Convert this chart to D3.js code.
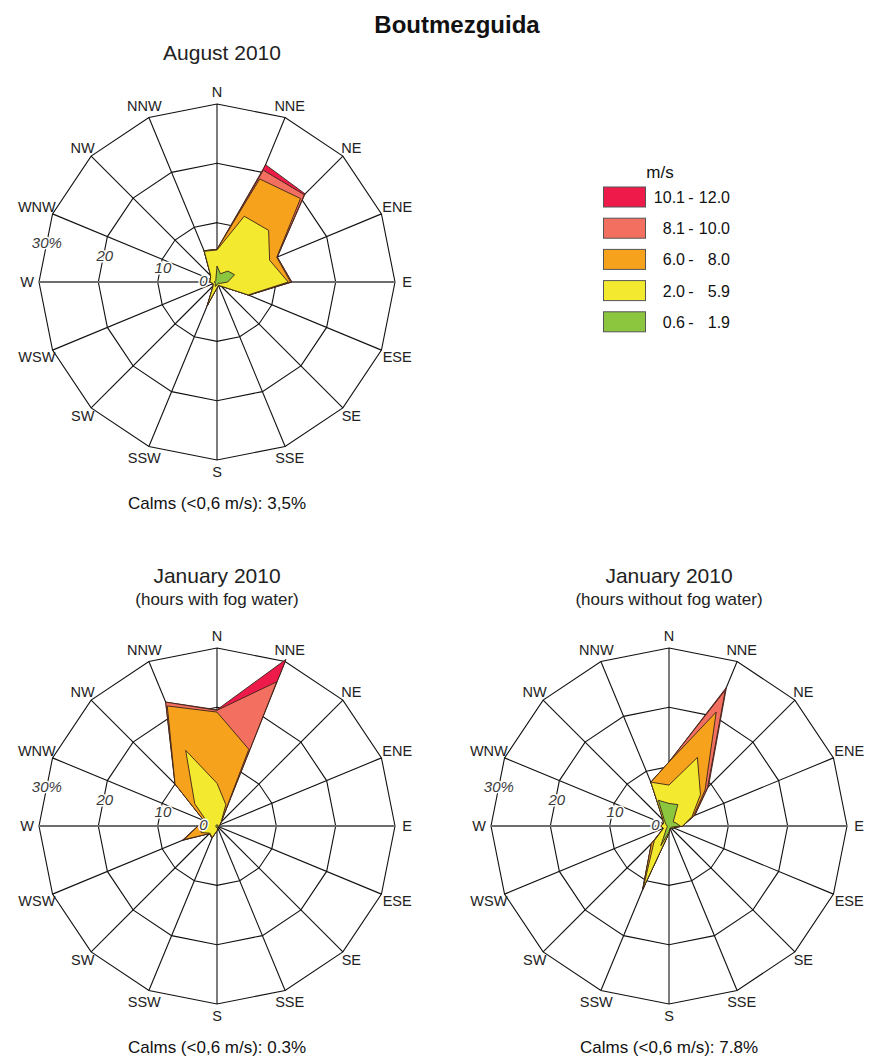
<!DOCTYPE html>
<html><head><meta charset="utf-8">
<script src="https://cdn.jsdelivr.net/npm/d3@7"></script>
<style>
body{margin:0;background:#fff;}
svg{font-family:"Liberation Sans",Arial,sans-serif;}
</style></head>
<body><svg id="chart" width="871" height="1056"></svg>
<script>
// 16 compass directions, clockwise from N
const directions = ["N","NNE","NE","ENE","E","ESE","SE","SSE","S","SSW","SW","WSW","W","WNW","NW","NNW"];
const speedClasses = ["0.6 - 1.9","2.0 - 5.9","6.0 - 8.0","8.1 - 10.0","10.1 - 12.0"];
const legendLow = ["10.1","8.1","6.0","2.0","0.6"];
const legendHigh = ["12.0","10.0","8.0","5.9","1.9"];
const classColors = ["#8CC63F","#F3EA2F","#F7A21C","#F37060","#ED1A4A"];
const ringTicks = [0,10,20,30];

// Cumulative frequency (%) per direction, up to each speed class upper bound
// August 2010
const aug_1_9  = [2.7,1.5,2.6,3.2,1.8,0.6,0.3,0.3,0.5,0.8,0.4,0.3,0.5,0.3,0.3,0.5];
const aug_5_9  = [5.4,12.0,12.3,9.6,12.0,5.7,1.0,0.6,1.0,4.2,0.9,0.7,1.2,1.2,1.5,5.6];
const aug_8_0  = [5.5,18.8,19.9,10.9,12.4,5.8,1.0,0.6,1.0,4.3,0.9,0.7,1.2,1.2,1.5,5.7];
const aug_10_0 = [5.5,20.4,20.8,11.0,12.6,5.8,1.0,0.6,1.0,4.3,0.9,0.7,1.2,1.2,1.5,5.7];
const aug_12_0 = [5.5,21.4,21.0,11.0,12.6,5.8,1.0,0.6,1.0,4.3,0.9,0.7,1.2,1.2,1.5,5.7];
// January 2010, hours with fog water
const janFog_1_9  = [0.2,0.2,0.2,0.1,0.1,0.1,0.1,0.1,0.2,0.3,0.2,0.2,0.2,0.2,0.2,0.2];
const janFog_5_9  = [7.2,3.9,1.0,0.5,0.3,0.2,0.2,0.3,0.8,2.1,1.7,2.9,2.6,1.8,5.3,13.8];
const janFog_8_0  = [19.2,14.0,1.0,0.5,0.3,0.2,0.2,0.3,0.8,2.2,1.8,6.0,3.2,2.4,10.0,21.9];
const janFog_10_0 = [19.5,26.3,1.0,0.5,0.3,0.2,0.2,0.3,0.8,2.2,1.8,6.3,3.2,2.4,10.0,22.6];
const janFog_12_0 = [19.6,30.4,1.0,0.5,0.3,0.2,0.2,0.3,0.8,2.2,1.8,6.3,3.2,2.4,10.0,22.6];
// January 2010, hours without fog water
const janNoFog_1_9  = [3.8,3.9,1.0,1.3,1.9,0.5,0.4,0.4,1.0,3.6,0.6,0.3,0.3,0.5,1.0,4.7];
const janNoFog_5_9  = [6.9,12.5,7.5,4.2,2.3,0.8,0.5,0.5,1.2,11.4,3.5,1.0,1.4,1.0,1.4,8.0];
const janNoFog_8_0  = [10.8,20.8,8.6,4.5,2.3,0.8,0.5,0.5,1.2,11.6,4.2,1.0,1.4,1.0,1.4,8.0];
const janNoFog_10_0 = [10.8,24.8,9.2,4.7,2.3,0.8,0.5,0.5,1.2,11.6,4.2,1.0,1.4,1.0,1.4,8.0];
const janNoFog_12_0 = [10.8,25.3,9.4,4.7,2.3,0.8,0.5,0.5,1.2,11.6,4.2,1.0,1.4,1.0,1.4,8.0];

const roses = [
  {title:"August 2010", sub:null, calms:"Calms (<0,6 m/s): 3,5%", cx:217, cy:282,
   layers:[aug_1_9,aug_5_9,aug_8_0,aug_10_0,aug_12_0]},
  {title:"January 2010", sub:"(hours with fog water)", calms:"Calms (<0,6 m/s): 0.3%", cx:217, cy:826,
   layers:[janFog_1_9,janFog_5_9,janFog_8_0,janFog_10_0,janFog_12_0]},
  {title:"January 2010", sub:"(hours without fog water)", calms:"Calms (<0,6 m/s): 7.8%", cx:669, cy:826,
   layers:[janNoFog_1_9,janNoFog_5_9,janNoFog_8_0,janNoFog_10_0,janNoFog_12_0]}
];

const svg = d3.select("#chart");
const R = 178;
const rScale = d3.scaleLinear().domain([0,30]).range([0,R]);
const angle = d3.scaleLinear().domain([0,16]).range([0,2*Math.PI]);

svg.append("text").attr("x",457).attr("y",33).attr("text-anchor","middle")
  .attr("font-size",24).attr("font-weight","bold").attr("fill","#111").text("Boutmezguida");

roses.forEach(rose=>{
  const g = svg.append("g").attr("transform",`translate(${rose.cx},${rose.cy})`);
  // rings (16-gons)
  const ringLine = d3.lineRadial().angle((d,i)=>angle(i)).radius(d=>rScale(d)).curve(d3.curveLinearClosed);
  ringTicks.slice(1).forEach(t=>{
    g.append("path").attr("d",ringLine(directions.map(()=>t)))
      .attr("fill","none").attr("stroke","#111").attr("stroke-width",1.1);
  });
  // spokes
  directions.forEach((d,i)=>{
    const a = angle(i);
    const horiz = (i===4||i===12);
    g.append("line").attr("x1",0).attr("y1",0)
      .attr("x2",rScale(30)*Math.sin(a)).attr("y2",-rScale(30)*Math.cos(a))
      .attr("stroke",horiz?"#6d6d6d":"#111").attr("stroke-width",horiz?1.8:1.1);
  });
  // stacked layers, outermost first
  const area = d3.lineRadial().angle((d,i)=>angle(i)).radius(d=>rScale(d)).curve(d3.curveLinearClosed);
  for(let k=rose.layers.length-1;k>=0;k--){
    g.append("path").attr("d",area(rose.layers[k]))
      .attr("fill",classColors[k]).attr("stroke","#3a2418").attr("stroke-width",0.9)
      .attr("stroke-linejoin","miter");
  }
  // direction labels
  directions.forEach((d,i)=>{
    const a = angle(i);
    const rr = ([3,5,11,13].includes(i)) ? 195 : 190;
    g.append("text").attr("x",rr*Math.sin(a)).attr("y",-rr*Math.cos(a))
      .attr("text-anchor","middle").attr("dominant-baseline","central")
      .attr("font-size",14.5).attr("fill","#222").text(d);
  });
  // ring labels
  const la = -12*Math.PI/180;
  ringTicks.forEach(t=>{
    const r = t===0 ? 14 : rScale(t)-4;
    g.append("text").attr("x",-r*Math.cos(la)).attr("y",r*Math.sin(la)+ (t===0?1:-3))
      .attr("text-anchor","middle").attr("dominant-baseline","central")
      .attr("font-size",15).attr("font-style","italic").attr("fill","#3a3a3a")
      .attr("stroke","#fff").attr("stroke-width",3).attr("paint-order","stroke")
      .text(t===30?"30%":t);
  });
  // titles
  g.append("text").attr("x",rose.sub?0:5).attr("y",-R-(rose.sub?65:44)).attr("text-anchor","middle")
    .attr("font-size",21).attr("fill","#222").text(rose.title);
  if(rose.sub) g.append("text").attr("x",0).attr("y",-R-43).attr("text-anchor","middle")
    .attr("font-size",17).attr("fill","#222").text(rose.sub);
  g.append("text").attr("x",0).attr("y",R+49).attr("text-anchor","middle")
    .attr("font-size",17).attr("fill","#111").text(rose.calms);
});

// legend
const lg = svg.append("g");
lg.append("text").attr("x",660).attr("y",178).attr("text-anchor","middle")
  .attr("font-size",17).attr("fill","#111").text("m/s");
legendLow.forEach((lo,i)=>{
  const k = classColors.length-1-i;
  const y = 187 + i*31.2;
  lg.append("rect").attr("x",603.5).attr("y",y).attr("width",42).attr("height",20)
    .attr("fill",classColors[k]).attr("stroke","#555").attr("stroke-width",1);
  lg.append("text").attr("x",685).attr("y",y+16).attr("text-anchor","end").attr("font-size",16).attr("fill","#111").text(lo);
  lg.append("text").attr("x",691).attr("y",y+16).attr("text-anchor","middle").attr("font-size",16).attr("fill","#111").text("-");
  lg.append("text").attr("x",730).attr("y",y+16).attr("text-anchor","end").attr("font-size",16).attr("fill","#111").text(legendHigh[i]);
});
</script></body></html>
